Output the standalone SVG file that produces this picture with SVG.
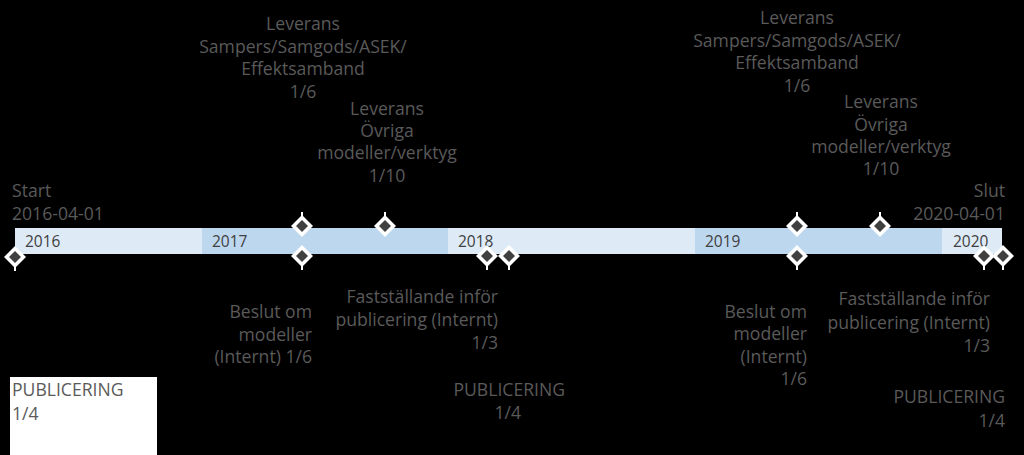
<svg xmlns="http://www.w3.org/2000/svg" width="1024" height="455" viewBox="0 0 1024 455">
<defs>
<style>
.t{font-family:"Open Sans","Noto Sans","Liberation Sans",sans-serif;font-size:17.6px;fill:#5a5a5a}
.m{text-anchor:middle}
.e{text-anchor:end}
.y{font-family:"Open Sans","Noto Sans","Liberation Sans",sans-serif;font-size:15.5px;fill:#404040}
.lt{fill:#deebf7}
.dk{fill:#bdd7ee}
</style>
<g id="dmU">
<line x1="0" y1="-14" x2="0" y2="0" stroke="#ffffff" stroke-width="2"/>
<polygon points="0,-11 11,0 0,11 -11,0" fill="#ffffff"/>
<polygon points="0,-6 6,0 0,6 -6,0" fill="#404040"/>
</g>
<g id="dmD">
<line x1="0" y1="0" x2="0" y2="14" stroke="#ffffff" stroke-width="2"/>
<polygon points="0,-11 11,0 0,11 -11,0" fill="#ffffff"/>
<polygon points="0,-6 6,0 0,6 -6,0" fill="#404040"/>
</g>
</defs>
<rect x="0" y="0" width="1024" height="455" fill="#000000"/>

<g id="timeline">
<rect class="lt" x="15" y="228" width="187" height="26"/>
<rect class="dk" x="202" y="228" width="246" height="26"/>
<rect class="lt" x="448" y="228" width="247" height="26"/>
<rect class="dk" x="695" y="228" width="247" height="26"/>
<rect class="lt" x="942" y="228" width="60" height="26"/>
<text class="y" x="25" y="247">2016</text>
<text class="y" x="212" y="247">2017</text>
<text class="y" x="458" y="247">2018</text>
<text class="y" x="705" y="247">2019</text>
<text class="y" x="953" y="247">2020</text>
</g>

<g id="connectors">
<use href="#dmD" x="15" y="257"/>
<use href="#dmU" x="302" y="226"/>
<use href="#dmU" x="385" y="226"/>
<use href="#dmD" x="302" y="256"/>
<use href="#dmD" x="487" y="256"/>
<use href="#dmD" x="509" y="256"/>
<use href="#dmU" x="797" y="226"/>
<use href="#dmU" x="880" y="226"/>
<use href="#dmD" x="797" y="256"/>
<use href="#dmD" x="984" y="256"/>
<use href="#dmD" x="1003" y="256"/>
</g>

<g id="start">
<text class="t" x="12" y="197">Start</text>
<text class="t" x="12" y="220">2016-04-01</text>
</g>
<g id="slut">
<text class="t e" x="1005" y="197">Slut</text>
<text class="t e" x="1005" y="220">2020-04-01</text>
</g>

<g id="lev1">
<text class="t m" x="303" y="30">Leverans</text>
<text class="t m" x="303" y="53">Sampers/Samgods/ASEK/</text>
<text class="t m" x="303" y="75">Effektsamband</text>
<text class="t m" x="303" y="98">1/6</text>
</g>
<g id="lev2">
<text class="t m" x="387" y="115">Leverans</text>
<text class="t m" x="387" y="137">Övriga</text>
<text class="t m" x="387" y="159">modeller/verktyg</text>
<text class="t m" x="387" y="182">1/10</text>
</g>
<g id="lev3">
<text class="t m" x="797" y="24">Leverans</text>
<text class="t m" x="797" y="47">Sampers/Samgods/ASEK/</text>
<text class="t m" x="797" y="69">Effektsamband</text>
<text class="t m" x="797" y="92">1/6</text>
</g>
<g id="lev4">
<text class="t m" x="881" y="108">Leverans</text>
<text class="t m" x="881" y="131">Övriga</text>
<text class="t m" x="881" y="153">modeller/verktyg</text>
<text class="t m" x="881" y="175">1/10</text>
</g>

<g id="beslut1">
<text class="t e" x="312" y="318">Beslut om</text>
<text class="t e" x="312" y="341">modeller</text>
<text class="t e" x="312" y="363">(Internt) 1/6</text>
</g>
<g id="fast1">
<text class="t e" x="498" y="303">Fastställande inför</text>
<text class="t e" x="498" y="326">publicering (Internt)</text>
<text class="t e" x="498" y="349">1/3</text>
</g>
<g id="pub2">
<text class="t e" x="565" y="396">PUBLICERING</text>
<text class="t e" x="521" y="419">1/4</text>
</g>

<g id="beslut2">
<text class="t e" x="807" y="318">Beslut om</text>
<text class="t e" x="807" y="340">modeller</text>
<text class="t e" x="807" y="363">(Internt)</text>
<text class="t e" x="807" y="385">1/6</text>
</g>
<g id="fast2">
<text class="t e" x="990" y="305">Fastställande inför</text>
<text class="t e" x="990" y="329">publicering (Internt)</text>
<text class="t e" x="990" y="352">1/3</text>
</g>
<g id="pub3">
<text class="t e" x="1005" y="403">PUBLICERING</text>
<text class="t e" x="1005" y="427">1/4</text>
</g>

<g id="pub1">
<rect x="10" y="377" width="147" height="78" fill="#ffffff"/>
<text class="t" x="12" y="396">PUBLICERING</text>
<text class="t" x="12" y="420">1/4</text>
</g>
</svg>
